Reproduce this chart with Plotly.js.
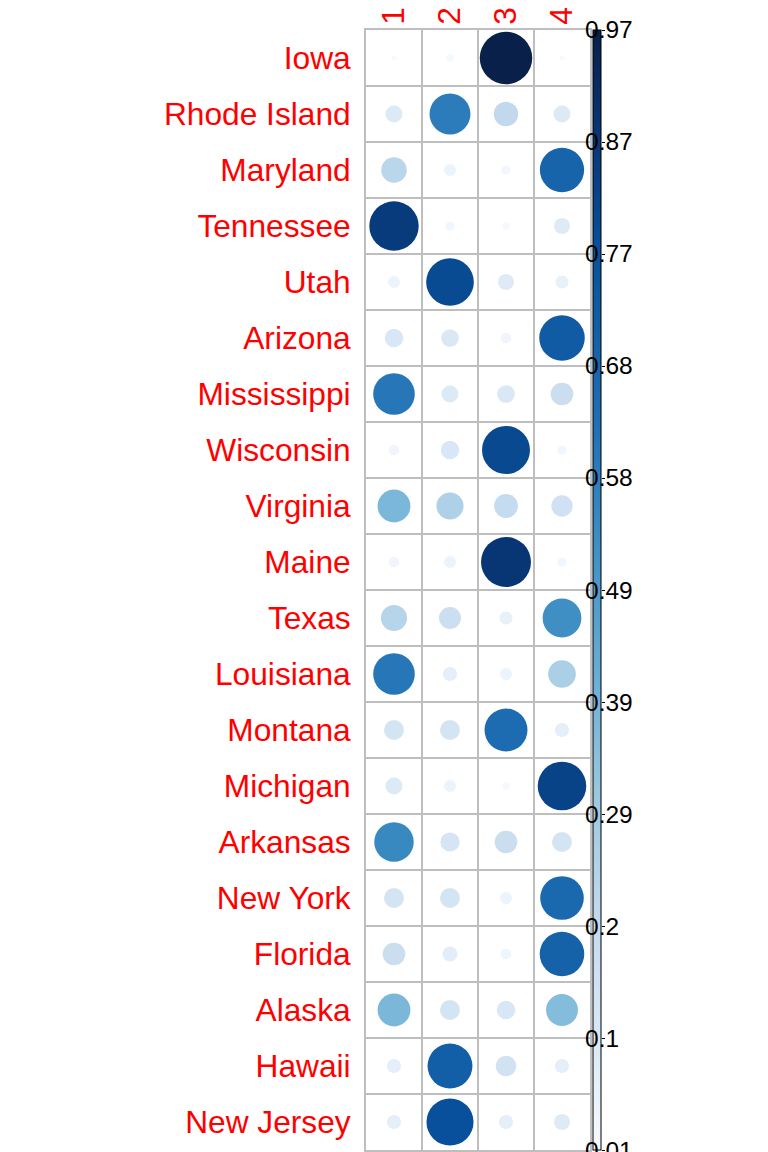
<!DOCTYPE html>
<html>
<head>
<meta charset="utf-8">
<script src="https://cdn.plot.ly/plotly-3.0.1.min.js"></script>
<style>html,body{margin:0;padding:0;background:#fff;}#chart{width:768px;height:1152px;}</style>
</head>
<body>
<div id="chart"></div>
<script>
// ---- data ----
const states = ["Iowa","Rhode Island","Maryland","Tennessee","Utah","Arizona","Mississippi","Wisconsin","Virginia","Maine","Texas","Louisiana","Montana","Michigan","Arkansas","New York","Florida","Alaska","Hawaii","New Jersey"];
const clusters = ["1","2","3","4"];
const cluster1 = [0.01,0.10,0.23,0.86,0.05,0.12,0.61,0.04,0.38,0.04,0.24,0.61,0.14,0.10,0.55,0.14,0.18,0.38,0.07,0.07];
const cluster2 = [0.02,0.59,0.05,0.03,0.80,0.11,0.10,0.12,0.26,0.05,0.17,0.07,0.14,0.05,0.13,0.14,0.08,0.14,0.71,0.78];
const cluster3 = [0.97,0.21,0.03,0.02,0.09,0.04,0.11,0.81,0.20,0.88,0.06,0.05,0.65,0.02,0.18,0.05,0.04,0.12,0.15,0.07];
const cluster4 = [0.01,0.10,0.69,0.09,0.06,0.73,0.18,0.03,0.16,0.03,0.53,0.27,0.07,0.83,0.14,0.67,0.70,0.36,0.07,0.09];
const colorLimits = [0.01, 0.97];
const barTickVals = [0.01,0.106,0.202,0.298,0.394,0.49,0.586,0.682,0.778,0.874,0.97];
const barTickText = ["0.01","0.1","0.2","0.29","0.39","0.49","0.58","0.68","0.77","0.87","0.97"];
const bluesColors = ["#F7FBFF","#DEEBF7","#C6DBEF","#9ECAE1","#6BAED6","#4292C6","#2171B5","#08519C","#08306B","#08204A"];
const bluesStops  = [0, 0.085, 0.196, 0.308, 0.42, 0.53, 0.643, 0.80, 0.93, 1];

// ---- build traces ----
const series = [cluster1, cluster2, cluster3, cluster4];
const xs = [], ys = [], vs = [];
series.forEach((vals, ci) => {
  vals.forEach((v, ri) => { xs.push(clusters[ci]); ys.push(states[ri]); vs.push(v); });
});
const colorscale = bluesColors.map((c, i) => [bluesStops[i], c]);

const W = 768, H = 1152;
const gridL = 366, gridR = 590, gridT = 30, gridB = 1150;
const font = "Liberation Sans, Arial, sans-serif";
const cellPx = 53.3; // diameter of a circle of value 1

const circles = {
  type: "scatter", mode: "markers",
  x: xs, y: ys, xaxis: "x", yaxis: "y",
  hoverinfo: "skip", showlegend: false,
  marker: {
    size: vs, sizemode: "area", sizeref: 2 / (cellPx * cellPx),
    color: vs, colorscale: colorscale, cmin: colorLimits[0], cmax: colorLimits[1],
    line: {width: 0}, opacity: 1,
    colorbar: {
      x: 593 / W, xanchor: "left", xpad: 0,
      y: 1 - gridT / H, yanchor: "top", ypad: 0,
      len: gridB - gridT, lenmode: "pixels",
      thickness: 8, thicknessmode: "pixels",
      outlinewidth: 1, outlinecolor: "#000000",
      showticklabels: false, ticks: "", borderwidth: 0
    }
  }
};

// invisible trace to anchor the colour-bar scale axis
const barAxisTrace = {
  type: "scatter", mode: "markers",
  x: [clusters[0], clusters[0]], y: colorLimits,
  xaxis: "x", yaxis: "y2",
  marker: {opacity: 0, size: 1}, hoverinfo: "skip", showlegend: false
};

const gridStyle = {
  type: "category", tickson: "boundaries",
  showgrid: true, gridcolor: "#BEBEBE", gridwidth: 2,
  showline: true, mirror: true, linecolor: "#BEBEBE", linewidth: 2,
  zeroline: false, ticks: "", automargin: false, fixedrange: true,
  tickfont: {family: font, size: 31.7, color: "#FF0000"}
};

// colour-bar labels, placed on the colour-bar scale axis (y2)
const barLabels = barTickVals.map((v, i) => ({
  xref: "paper", x: 583 / W, xanchor: "left",
  yref: "y2", y: v, yanchor: "middle",
  text: barTickText[i], showarrow: false,
  font: {family: font, size: 24.5, color: "#000000"}
}));

const layout = {
  width: W, height: H,
  margin: {l: 0, r: 0, t: 0, b: 0, pad: 0},
  paper_bgcolor: "#ffffff", plot_bgcolor: "#ffffff",
  showlegend: false, hovermode: false,
  xaxis: Object.assign({}, gridStyle, {
    domain: [gridL / W, gridR / W], side: "top",
    categoryarray: clusters, categoryorder: "array",
    range: [-0.5, clusters.length - 0.5], tickangle: -90,
    ticklabelstandoff: -3
  }),
  yaxis: Object.assign({}, gridStyle, {
    domain: [1 - gridB / H, 1 - gridT / H],
    categoryarray: states, categoryorder: "array",
    range: [states.length - 0.5, -0.5],
    ticklabelstandoff: 7
  }),
  yaxis2: {
    overlaying: "y", anchor: "free", position: 601 / W, side: "right",
    range: colorLimits, type: "linear",
    showgrid: false, zeroline: false, showline: false,
    tickmode: "array", tickvals: barTickVals, ticktext: barTickText,
    ticks: "outside", ticklen: 3, tickwidth: 1, tickcolor: "#000000",
    showticklabels: false, automargin: false, fixedrange: true
  },
  annotations: barLabels
};

Plotly.newPlot("chart", [circles, barAxisTrace], layout, {staticPlot: true, displayModeBar: false});
</script>
</body>
</html>
